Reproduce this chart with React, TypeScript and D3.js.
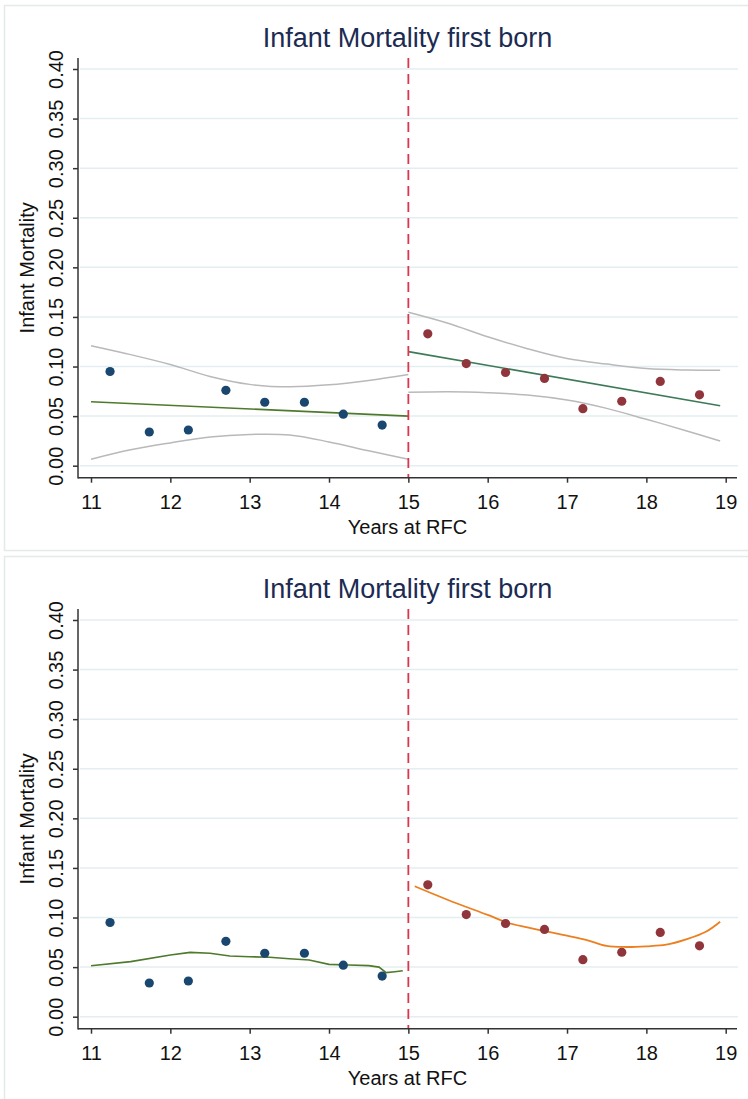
import React, { useEffect, useRef } from "react";
import * as d3 from "d3";

// axis ticks
const xTicks = [11, 12, 13, 14, 15, 16, 17, 18, 19];
const yTicks = [0, 0.05, 0.1, 0.15, 0.2, 0.25, 0.3, 0.35, 0.4];
const cutoff = 15;

// binned means before / after the cutoff
const beforeX = [11.24, 11.735, 12.227, 12.7, 13.19, 13.69, 14.18, 14.67];
const beforeRate = [0.095, 0.034, 0.036, 0.076, 0.064, 0.064, 0.052, 0.041];
const afterX = [15.245, 15.73, 16.225, 16.716, 17.2, 17.69, 18.175, 18.67];
const afterRate = [0.133, 0.103, 0.094, 0.088, 0.0575, 0.065, 0.085, 0.0715];

// linear fits (top panel)
const fitBeforeX = [11, 15];
const fitBeforeY = [0.0645, 0.05];
const fitAfterX = [15, 18.93];
const fitAfterY = [0.115, 0.0605];

// confidence bands (top panel)
const ciBeforeX = [11, 11.5, 12, 12.5, 13, 13.5, 14, 14.5, 15];
const ciBeforeUpper = [0.121, 0.112, 0.102, 0.09, 0.082, 0.0795, 0.0815, 0.086, 0.092];
const ciBeforeLower = [0.0065, 0.016, 0.023, 0.029, 0.0315, 0.031, 0.024, 0.015, 0.0065];
const ciAfterX = [15, 15.5, 16, 16.5, 17, 17.5, 18, 18.5, 18.93];
const ciAfterUpper = [0.1547, 0.1436, 0.13, 0.118, 0.108, 0.1025, 0.098, 0.0965, 0.0962];
const ciAfterLower = [0.074, 0.0746, 0.0736, 0.0713, 0.0662, 0.0578, 0.0468, 0.0353, 0.0249];

// lowess smooths (bottom panel)
const lowessBeforeX = [11, 11.5, 12, 12.25, 12.5, 12.75, 13, 13.25, 13.5, 13.75, 14, 14.25, 14.5, 14.63, 14.72, 14.83, 14.93];
const lowessBeforeY = [0.0514, 0.0555, 0.0622, 0.0649, 0.064, 0.0612, 0.0605, 0.0599, 0.0585, 0.0572, 0.0528, 0.0521, 0.0515, 0.05, 0.0444, 0.0454, 0.0464];
const lowessAfterX = [15.08, 15.5, 16, 16.25, 16.5, 16.75, 17, 17.25, 17.5, 17.75, 18, 18.25, 18.5, 18.75, 18.93];
const lowessAfterY = [0.1315, 0.1177, 0.1026, 0.0948, 0.0901, 0.0857, 0.0817, 0.0773, 0.0713, 0.0703, 0.071, 0.0726, 0.078, 0.0857, 0.0958];

const title = "Infant Mortality first born";
const xTitle = "Years at RFC";
const yTitle = "Infant Mortality";

const FONT = "'Liberation Sans', Arial, sans-serif";
const NAVY = "#1a476f";
const MAROON = "#90353b";

const zip = (xs: number[], ys: number[]) => xs.map((v, i) => [v, ys[i]] as [number, number]);

export default function App() {
  const ref = useRef<SVGSVGElement>(null);

  useEffect(() => {
    const svg = d3.select(ref.current);
    svg.selectAll("*").remove();

    const x = d3.scaleLinear().domain([11, 19]).range([91, 725.7]);
    const y = d3.scaleLinear().domain([0, 0.4]).range([465.7, 69]);
    const plot = { left: 78, right: 737, top: 58, bottom: 477.7 };

    const line = d3.line<[number, number]>()
      .x((d) => x(d[0]))
      .y((d) => y(d[1]));
    const smooth = d3.line<[number, number]>()
      .x((d) => x(d[0]))
      .y((d) => y(d[1]))
      .curve(d3.curveCatmullRom);

    const drawPanel = (offset: number, top: boolean) => {
      const g = svg.append("g").attr("transform", `translate(0,${offset})`);

      // panel frame
      g.append("rect")
        .attr("x", 4.5).attr("y", 5.5)
        .attr("width", 760).attr("height", top ? 545 : 600)
        .attr("fill", "#fff")
        .attr("stroke", "#e2eaec")
        .attr("stroke-width", 1.5);

      // gridlines
      g.append("g").selectAll("line")
        .data(yTicks)
        .enter().append("line")
          .attr("x1", plot.left + 2).attr("x2", plot.right + 1)
          .attr("y1", (d) => y(d)).attr("y2", (d) => y(d))
          .attr("stroke", "#e4eef1")
          .attr("stroke-width", 1.5);

      if (top) {
        [[ciBeforeX, ciBeforeUpper], [ciBeforeX, ciBeforeLower], [ciAfterX, ciAfterUpper], [ciAfterX, ciAfterLower]]
          .forEach(([xs, ys]) => {
            g.append("path")
              .attr("d", smooth(zip(xs, ys)))
              .attr("fill", "none")
              .attr("stroke", "#b9b9b9")
              .attr("stroke-width", 1.5);
          });
        g.append("path")
          .attr("d", line(zip(fitBeforeX, fitBeforeY)))
          .attr("fill", "none").attr("stroke", "#4f7a2c").attr("stroke-width", 1.6);
        g.append("path")
          .attr("d", line(zip(fitAfterX, fitAfterY)))
          .attr("fill", "none").attr("stroke", "#3d7a58").attr("stroke-width", 1.6);
      } else {
        g.append("path")
          .attr("d", line(zip(lowessBeforeX, lowessBeforeY)))
          .attr("fill", "none").attr("stroke", "#4f7a2c").attr("stroke-width", 1.6);
        g.append("path")
          .attr("d", smooth(zip(lowessAfterX, lowessAfterY)))
          .attr("fill", "none").attr("stroke", "#ec7f1f").attr("stroke-width", 1.8);
      }

      // cutoff
      g.append("line")
        .attr("x1", x(cutoff)).attr("x2", x(cutoff))
        .attr("y1", plot.top).attr("y2", plot.bottom)
        .attr("stroke", "#d8384f")
        .attr("stroke-width", 1.8)
        .attr("stroke-dasharray", "10,6");

      // points
      g.append("g").selectAll("circle")
        .data(zip(beforeX, beforeRate))
        .enter().append("circle")
          .attr("cx", (d) => x(d[0])).attr("cy", (d) => y(d[1]))
          .attr("r", 4.6).attr("fill", NAVY);
      g.append("g").selectAll("circle")
        .data(zip(afterX, afterRate))
        .enter().append("circle")
          .attr("cx", (d) => x(d[0])).attr("cy", (d) => y(d[1]))
          .attr("r", 4.6).attr("fill", MAROON);

      // axes
      const yAxis = g.append("g")
        .attr("transform", `translate(${plot.left},0)`)
        .call(d3.axisLeft(y).tickValues(yTicks).tickFormat(d3.format(".2f")).tickSize(5).tickSizeOuter(0));
      yAxis.select(".domain").remove();
      yAxis.selectAll("line").attr("stroke", "#333").attr("stroke-width", 1.5);
      yAxis.selectAll("text")
        .attr("transform", "rotate(-90)")
        .attr("x", 0).attr("y", -15).attr("dy", 0)
        .attr("text-anchor", "middle")
        .style("font-family", FONT).style("font-size", "20px").attr("fill", "#111");

      const xAxis = g.append("g")
        .attr("transform", `translate(0,${plot.bottom})`)
        .call(d3.axisBottom(x).tickValues(xTicks).tickFormat(d3.format("d")).tickSize(5).tickSizeOuter(0));
      xAxis.select(".domain").remove();
      xAxis.selectAll("line").attr("stroke", "#333").attr("stroke-width", 1.5);
      xAxis.selectAll("text")
        .attr("y", 31).attr("dy", 0)
        .style("font-family", FONT).style("font-size", "20px").attr("fill", "#111");

      g.append("line")
        .attr("x1", plot.left).attr("x2", plot.left)
        .attr("y1", plot.top).attr("y2", plot.bottom + 0.75)
        .attr("stroke", "#333").attr("stroke-width", 1.5);
      g.append("line")
        .attr("x1", plot.left).attr("x2", plot.right)
        .attr("y1", plot.bottom).attr("y2", plot.bottom)
        .attr("stroke", "#333").attr("stroke-width", 1.5);

      // titles
      g.append("text")
        .attr("x", (plot.left + plot.right) / 2).attr("y", 47)
        .attr("text-anchor", "middle")
        .style("font-family", FONT).style("font-size", "27px")
        .attr("fill", "#1c2b52")
        .text(title);
      g.append("text")
        .attr("x", (plot.left + plot.right) / 2).attr("y", 534)
        .attr("text-anchor", "middle")
        .style("font-family", FONT).style("font-size", "20px")
        .attr("fill", "#111")
        .text(xTitle);
      g.append("text")
        .attr("transform", `translate(34,${(plot.top + plot.bottom) / 2}) rotate(-90)`)
        .attr("text-anchor", "middle")
        .style("font-family", FONT).style("font-size", "20px")
        .attr("fill", "#111")
        .text(yTitle);
    };

    drawPanel(0, true);
    drawPanel(551, false);
  }, []);

  return (
    <svg
      ref={ref}
      width={748}
      height={1099}
      style={{ position: "absolute", left: 0, top: 0, background: "#fff" }}
    />
  );
}
